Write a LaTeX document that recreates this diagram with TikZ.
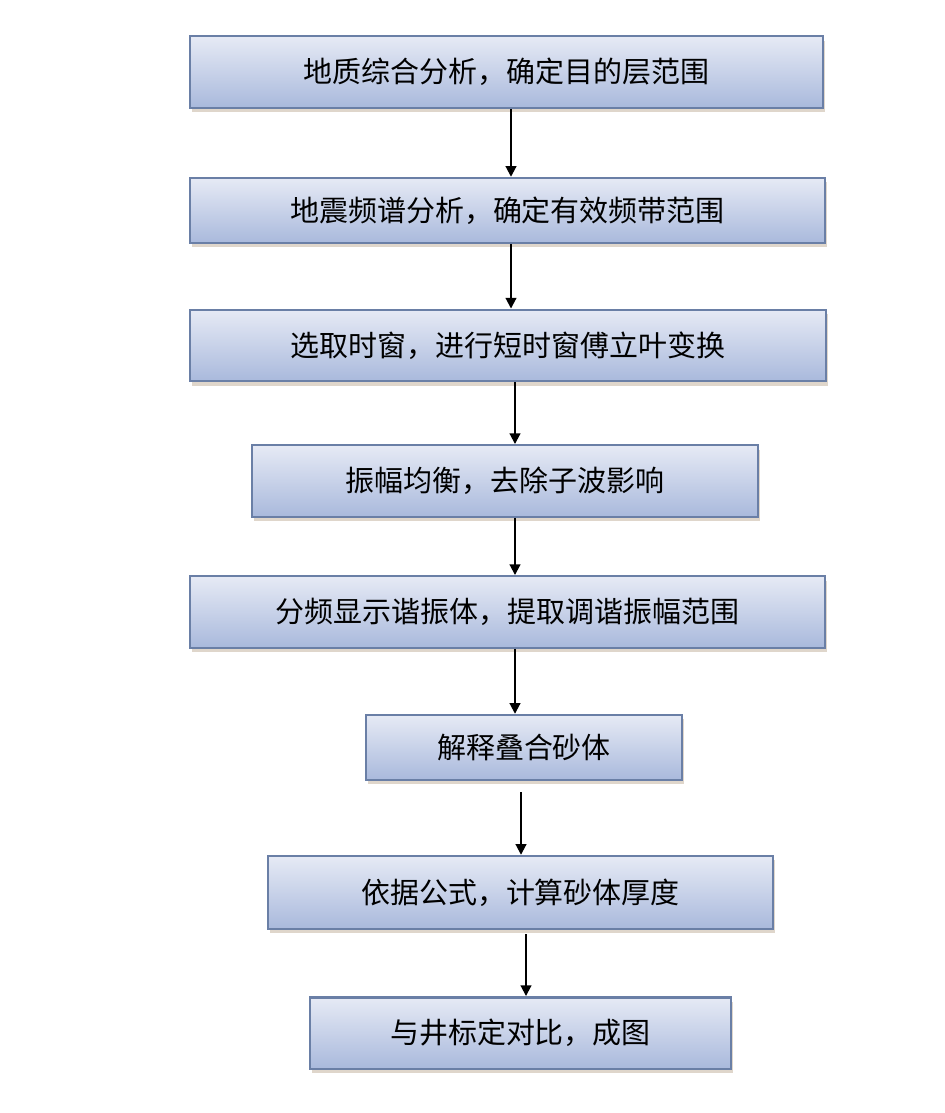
\documentclass[tikz,border=0pt]{standalone}
\usepackage{fontspec}
\newfontfamily\cjk{Noto Sans CJK SC}
\usetikzlibrary{arrows.meta, positioning, shadows}

\definecolor{boxtop}{HTML}{E6EAF5}
\definecolor{boxbot}{HTML}{A9B9DC}
\definecolor{boxline}{HTML}{6A7FA6}
\definecolor{shadowc}{HTML}{B8A48C}

\begin{document}
\begin{tikzpicture}[x=0.02cm, y=-0.02cm,
    stepbox/.style={draw=boxline, line width=1.4pt, rectangle, top color=boxtop, bottom color=boxbot,
        minimum width=#1, minimum height=1.43cm, font=\cjk\fontsize{16.5}{18}\selectfont,
        drop shadow={shadow xshift=1pt, shadow yshift=-2.5pt, fill=shadowc, opacity=0.45}},
    flow/.style={-{Triangle[length=6pt, width=6pt]}, line width=1.1pt, black}
]
\useasboundingbox (0,0) rectangle (945,1113);

% Steps
\node[stepbox=12.66cm] (geo) at (506.5,72) {地质综合分析，确定目的层范围};
\node[stepbox=12.70cm, minimum height=1.3cm] (spec) at (507.5,210.5) {地震频谱分析，确定有效频带范围};
\node[stepbox=12.72cm] (stft) at (508,345.5) {选取时窗，进行短时窗傅立叶变换};
\node[stepbox=10.12cm] (amp) at (505,481) {振幅均衡，去除子波影响};
\node[stepbox=12.70cm] (tune) at (507.5,612) {分频显示谐振体，提取调谐振幅范围};
\node[stepbox=6.32cm, minimum height=1.3cm] (sand) at (524,747.5) {解释叠合砂体};
\node[stepbox=10.10cm, minimum height=1.46cm] (thick) at (520.5,892.5) {依据公式，计算砂体厚度};
\node[stepbox=8.42cm] (map) at (520.5,1033) {与井标定对比，成图};

% Arrows between steps
\draw[flow] ([xshift=0.09cm]geo.south) -- ([xshift=0.09cm]geo.south |- spec.north);
\draw[flow] ([xshift=0.07cm]spec.south) -- ([xshift=0.07cm]spec.south |- stft.north);
\draw[flow] ([xshift=0.14cm]stft.south) -- ([xshift=0.14cm]stft.south |- amp.north);
\draw[flow] ([xshift=0.2cm]amp.south) -- ([xshift=0.2cm]amp.south |- tune.north);
\draw[flow] ([xshift=0.15cm]tune.south) -- ([xshift=0.15cm]tune.south |- sand.north);
\draw[flow] ([xshift=-0.06cm, yshift=-0.22cm]sand.south) -- ([xshift=-0.06cm]sand.south |- thick.north);
\draw[flow] ([xshift=0.11cm, yshift=-0.08cm]thick.south) -- ([xshift=0.11cm]thick.south |- map.north);

\end{tikzpicture}
\end{document}
